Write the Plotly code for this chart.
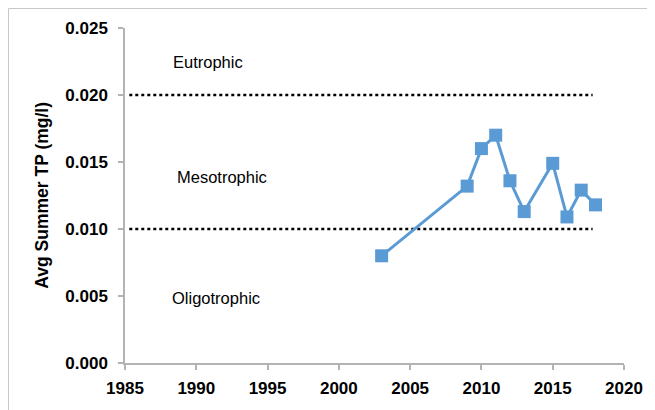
import plotly.graph_objects as go

years = [2003, 2009, 2010, 2011, 2012, 2013, 2015, 2016, 2017, 2018]
tp = [0.0080, 0.0132, 0.0160, 0.0170, 0.0136, 0.0113, 0.0149, 0.0109, 0.0129, 0.0118]
thresholds = [0.010, 0.020]
threshold_span = [1985.3, 2017.8]
zone_labels = ["Eutrophic", "Mesotrophic", "Oligotrophic"]
x_ticks = [1985, 1990, 1995, 2000, 2005, 2010, 2015, 2020]
y_ticks = [0.000, 0.005, 0.010, 0.015, 0.020, 0.025]

BLUE = "#5B9BD5"
AXIS = "#b3b3b3"
TICKFONT = dict(family="Liberation Sans", size=17, color="black")

fig = go.Figure()

for t in thresholds:
    fig.add_trace(go.Scatter(
        x=threshold_span, y=[t, t], mode="lines",
        line=dict(color="black", width=2.5, dash="dot"),
        showlegend=False, hoverinfo="skip"))

fig.add_trace(go.Scatter(
    x=years, y=tp, mode="lines+markers",
    line=dict(color=BLUE, width=3),
    marker=dict(symbol="square", size=13, color=BLUE),
    showlegend=False))

label_pos = [(1990.8, 0.0225), (1991.8, 0.0139), (1991.4, 0.00485)]
for txt, (lx, ly) in zip(zone_labels, label_pos):
    fig.add_annotation(x=lx, y=ly, text=txt, showarrow=False,
                       xanchor="center", yanchor="middle",
                       font=dict(family="Liberation Sans", size=16.5, color="black"))

fig.add_annotation(xref="paper", yref="paper", x=-0.168, y=0.5,
                   xanchor="center", yanchor="middle",
                   text="<b>Avg Summer TP (mg/l)</b>", textangle=-90,
                   showarrow=False,
                   font=dict(family="Liberation Sans", size=17.5, color="black"))

fig.add_shape(type="rect", xref="paper", yref="paper",
              x0=-0.2335, y0=-0.3, x1=1.2, y1=1.0582,
              line=dict(color="#c8c8c8", width=1), layer="below")

fig.update_xaxes(range=[1985, 2020], tickvals=x_ticks,
                 ticktext=["<b>%d</b>" % v for v in x_ticks],
                 showgrid=False, zeroline=False, showline=True,
                 linecolor=AXIS, linewidth=1.5, ticks="outside",
                 ticklen=5, tickcolor=AXIS, tickwidth=1.5,
                 tickfont=TICKFONT, ticklabelstandoff=4)
fig.update_yaxes(range=[0, 0.025], tickvals=y_ticks,
                 ticktext=["<b>%.3f</b>" % v for v in y_ticks],
                 showgrid=False, zeroline=False, showline=True,
                 linecolor=AXIS, linewidth=1.5, ticks="outside",
                 ticklen=5, tickcolor=AXIS, tickwidth=1.5,
                 tickfont=TICKFONT, ticklabelstandoff=7)

fig.update_layout(width=647, height=402,
                  margin=dict(l=117, r=31, t=20, b=47),
                  paper_bgcolor="white", plot_bgcolor="white")

fig.write_html("out.html")
